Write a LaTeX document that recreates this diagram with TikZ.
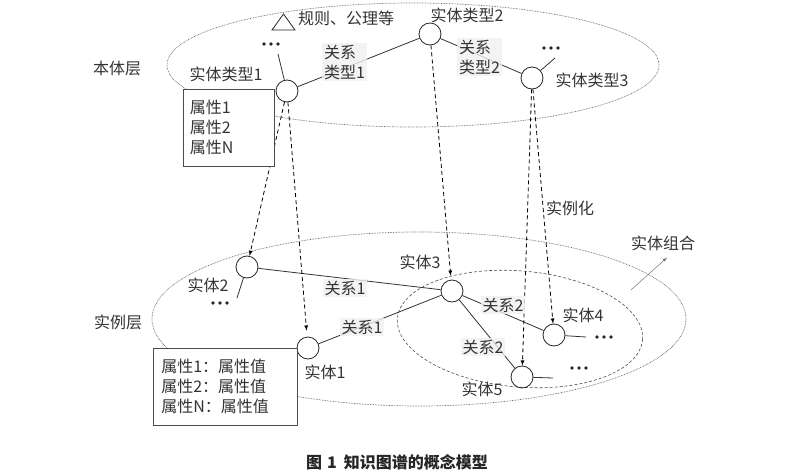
\documentclass[tikz,border=0pt]{standalone}
\usepackage{fontspec}
\setmainfont{Noto Sans CJK SC}
\tikzset{>=latex}

\begin{document}
\begin{tikzpicture}[x=1pt,y=-1pt,
	ent/.style={circle,draw=black!85,line width=0.8pt,minimum size=22pt,inner sep=0pt},
	lbl/.style={text=black!80,font=\fontsize{16}{20}\selectfont,inner sep=1pt},
	rel/.style={lbl,fill=black!6,fill opacity=0.8,text opacity=1,align=left,inner sep=2pt},
	link/.style={draw=black!80,line width=0.8pt},
	inst/.style={->,draw=black,line width=0.8pt,dash pattern=on 4pt off 3pt},
	layer/.style={draw=black!60,line width=0.7pt,dash pattern=on 0.7pt off 0.9pt},
	attrbox/.style={lbl,draw=black!70,fill=white,line width=0.7pt,align=left,anchor=north west,minimum height=77pt}]
	\useasboundingbox (0,0) rectangle (812,474);

	% Schichten
	\draw[layer] (413,65) ellipse [x radius=246pt, y radius=62pt];
	\draw[layer] (419,319) ellipse [x radius=267pt, y radius=87pt];
	\draw[black!70,line width=0.6pt,dash pattern=on 3pt off 2pt,rotate around={-5:(520,329)}] (520,329) ellipse [x radius=123pt, y radius=58pt];

	\node[lbl] (onto) at (117,68) {本体层};
	\node[lbl] (inst) at (118,322) {实例层};

	% Knoten
	\node[ent] (t1) at (287,91) {};
	\node[ent] (t2) at (430,34) {};
	\node[ent] (t3) at (532,78) {};
	\node[ent] (e1) at (308,348) {};
	\node[ent] (e2) at (247,267) {};
	\node[ent] (e3) at (452,291) {};
	\node[ent] (e4) at (554,335) {};
	\node[ent] (e5) at (522,377) {};

	\coordinate (d1) at (271,44);  \coordinate (c1) at (278,54);
	\coordinate (d2) at (220,303); \coordinate (c2) at (237,298);
	\coordinate (d3) at (551,48);  \coordinate (c3) at (555,58);
	\coordinate (d4) at (604,337); \coordinate (c4) at (586,337);
	\coordinate (d5) at (579,368); \coordinate (c5) at (553,378);

	\foreach \d in {d1,d2,d3,d4,d5} {
		\foreach \s in {-7,0,7}
			\fill[black!85] ([xshift=\s pt]\d) circle (1.8pt);
	}

	\draw[link] (c1) -- (t1);
	\draw[link] (c3) -- (t3);
	\draw[link] (e2) -- (c2);
	\draw[link] (e4) -- (c4);
	\draw[link] (e5) -- (c5);

	\draw[link] (t1) -- (t2);
	\draw[link] (t2) -- (t3);
	\draw[link] (e2) -- (e3);
	\draw[link] (e1) -- (e3);
	\draw[link] (e3) -- (e4);
	\draw[link] (e3) -- (e5);

	% Instanziierung
	\draw[inst] (t1) -- (e2);
	\draw[inst,shorten >=6pt] (t1) -- (e1);
	\draw[inst,shorten >=4pt] (t2) -- (e3);
	\draw[inst] (t3) -- (e5);
	\draw[inst] (t3) -- (e4);

	% Beschriftung
	\draw[black!85,line width=0.8pt] (272,30) -- (283.5,14) -- (295,30) -- cycle;
	\node[lbl,anchor=west] (rule) at (297,18) {规则、公理等};
	\node[lbl] (n1) at (226,74) {实体类型1};
	\node[lbl] (n2) at (467,15) {实体类型2};
	\node[lbl] (n3) at (592,80) {实体类型3};
	\node[rel,anchor=west] (r1) at (322,62) {关系\\类型1};
	\node[rel,anchor=west] (r2) at (457,57) {关系\\类型2};

	\node[lbl] (m2) at (208,285) {实体2};
	\node[lbl] (m3) at (420,262) {实体3};
	\node[lbl] (m4) at (583,315) {实体4};
	\node[lbl] (m1) at (325,372) {实体1};
	\node[lbl] (m5) at (482,389) {实体5};
	\node[rel] (s1) at (345,288) {关系1};
	\node[rel] (s2) at (362,327) {关系1};
	\node[rel] (s3) at (503,305) {关系2};
	\node[rel] (s4) at (483,347) {关系2};

	\node[lbl] (make) at (570,208) {实例化};
	\node[lbl] (grp) at (663,243) {实体组合};
	\coordinate (g0) at (631,290);
	\draw[->,black!55,line width=0.5pt] (g0) -- ([xshift=4pt,yshift=-6pt]grp.south);

	\node[attrbox,minimum width=91pt,text width=78pt,inner xsep=6pt] (a1) at (183,89) {属性1\\属性2\\属性N};
	\node[attrbox,minimum width=144pt,text width=128pt,inner xsep=8pt] (a2) at (153,348) {属性1：属性值\\属性2：属性值\\属性N：属性值};

	\node[text=black!85,font=\bfseries\fontsize{16}{20}\selectfont] (cap) at (397,462) {图\hspace{5pt}1\hspace{7pt}知识图谱的概念模型};
\end{tikzpicture}
\end{document}
